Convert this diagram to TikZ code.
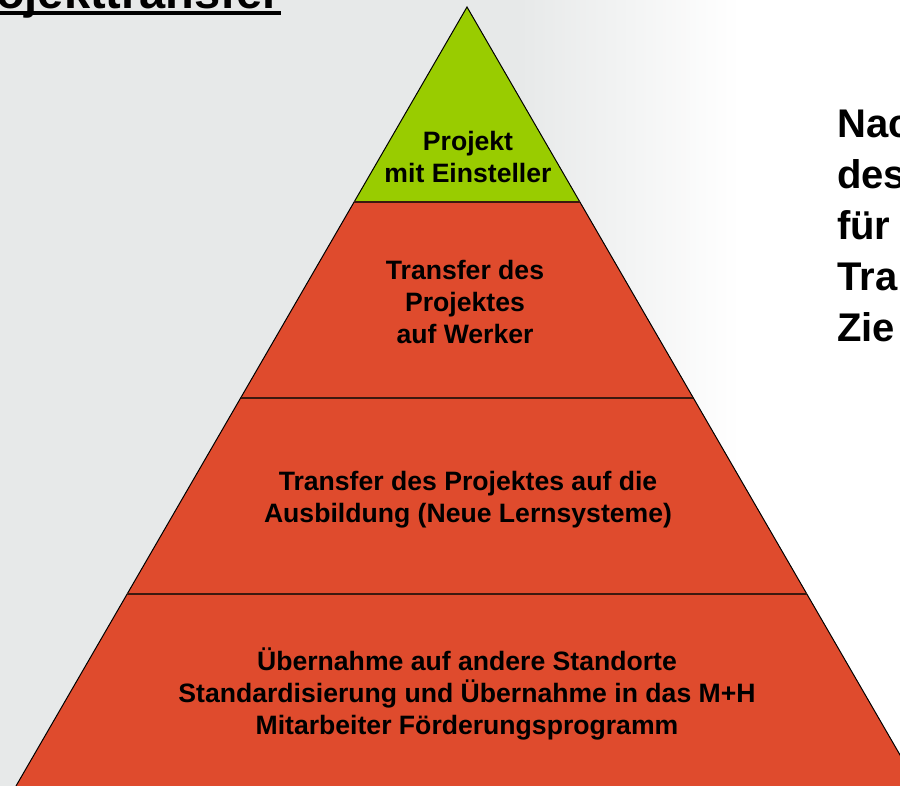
\documentclass[tikz,border=0pt]{standalone}
\usepackage{fontspec}
\setmainfont{Liberation Sans}
\usetikzlibrary{positioning}
\definecolor{levelgreen}{RGB}{153,204,0}
\definecolor{levelred}{RGB}{223,75,45}
\definecolor{bggray}{RGB}{231,233,233}
\definecolor{rimdark}{RGB}{60,25,15}

\begin{document}
\begin{tikzpicture}[x=1pt,y=-1pt]
  % Styles for the pyramid and the side text
  \tikzstyle{levelText}=[align=center,font=\fontsize{26.6}{32}\selectfont\bfseries,inner sep=0pt]
  \tikzstyle{sideText}=[anchor=base west,font=\fontsize{40}{51}\selectfont\bfseries,inner sep=0pt]
  \tikzstyle{titleText}=[anchor=base west,font=\fontsize{47}{50}\selectfont\bfseries,inner sep=0pt]
  \tikzstyle{divider}=[line width=2pt,draw=rimdark]

  \useasboundingbox (0,0) rectangle (900,786);
  % background
  \fill[bggray] (0,0) rectangle (520,786);
  \shade[left color=bggray,right color=white] (520,0) rectangle (740,786);
  \fill[white] (740,0) rectangle (900,786);

  % corners of the pyramid
  \coordinate (top) at (467,7);
  \coordinate (l1) at (354,202);
  \coordinate (r1) at (580,202);
  \coordinate (l2) at (241,398);
  \coordinate (r2) at (693,398);
  \coordinate (l3) at (127,594);
  \coordinate (r3) at (807,594);
  \coordinate (l4) at (16,786);
  \coordinate (r4) at (918,786);

  \fill[levelgreen] (top) -- (l1) -- (r1) -- cycle;
  \fill[levelred] (l1) -- (l4) -- (r4) -- (r1) -- cycle;
  \draw[line width=1pt] (l4) -- (top) -- (r4);
  \draw[divider] (l1) -- (r1);
  \draw[divider] (l2) -- (r2);
  \draw[divider] (l3) -- (r3);

  % texts of the levels
  \node[levelText] (lvl1) at (468,157) {Projekt\\mit Einsteller};
  \node[levelText] (lvl2) at (465,302) {Transfer des\\Projektes\\auf Werker};
  \node[levelText] (lvl3) at (468,500) {Transfer des Projektes auf die\\Ausbildung (Neue Lernsysteme)};
  \node[levelText] (lvl4) at (467,694) {Übernahme auf andere Standorte\\Standardisierung und Übernahme in das M+H\\Mitarbeiter Förderungsprogramm};

  % title, cut at the edge
  \node[titleText] (title) at (-4,9) {ojekttransfer};
  \draw[line width=3.5pt] ([yshift=-4pt]title.base west) -- ([yshift=-4pt]title.base east);

  % side text, cut at the edge
  \foreach \word [count=\i] in {Nac,des,für,Tra,Zie}
    \node[sideText] (side\i) at (837,87+51*\i) {\word};
\end{tikzpicture}
\end{document}
